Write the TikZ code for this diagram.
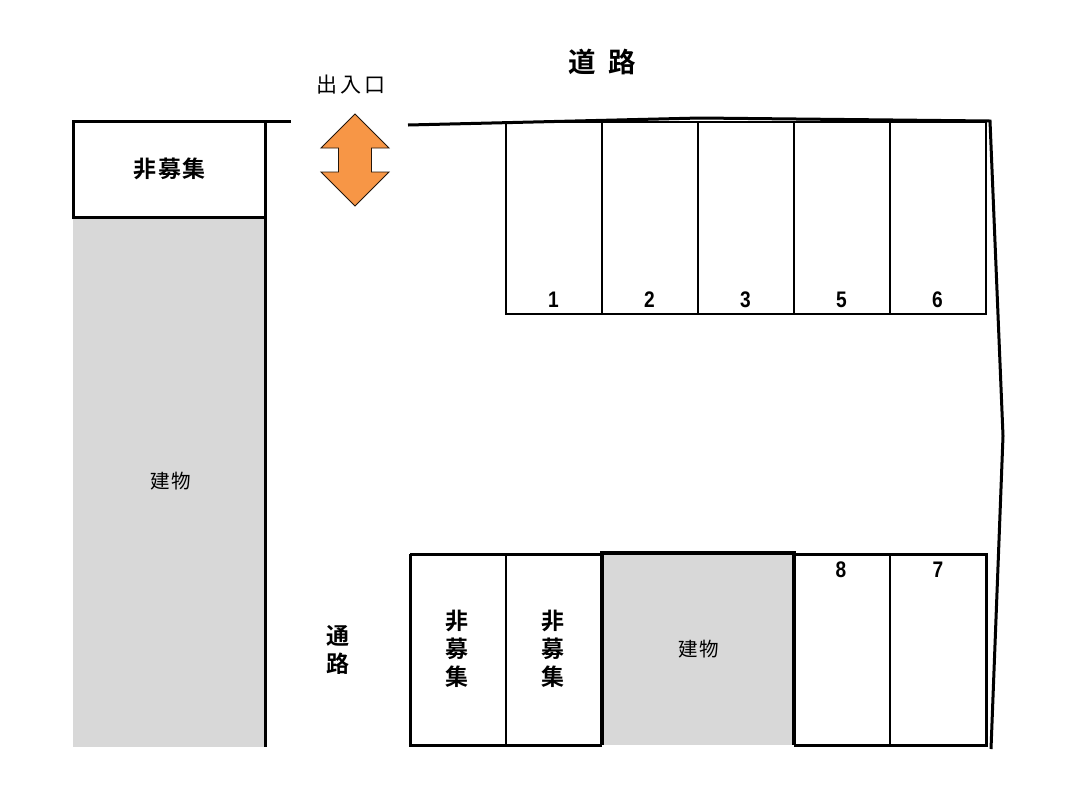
\documentclass[tikz,border=0pt]{standalone}
\usepackage{fontspec}
\setmainfont{Liberation Sans}
\newfontfamily\jpfont{Noto Sans CJK JP}
\newfontfamily\jpbold{Noto Sans CJK JP Bold}
\newfontfamily\digitfont[FakeStretch=0.85]{Liberation Sans Bold}
\definecolor{bldgray}{RGB}{216,216,216}
\definecolor{arroworange}{RGB}{247,150,70}
\tikzset{
  thin line/.style={draw=black,line width=2pt},
  thick line/.style={draw=black,line width=3pt},
  road line/.style={draw=black,line width=3pt,line join=miter},
  bigtxt/.style={inner sep=0pt,font=\jpbold\fontsize{23}{23}\selectfont},
  roadtxt/.style={inner sep=0pt,font=\jpbold\fontsize{27.5}{27.5}\selectfont},
  lighttxt/.style={inner sep=0pt,font=\jpfont\fontsize{19.5}{19.5}\selectfont},
  gatetxt/.style={inner sep=0pt,font=\jpfont\fontsize{21}{21}\selectfont},
  numtxt/.style={inner sep=0pt,font=\digitfont\fontsize{22.5}{22.5}\selectfont},
}
\begin{document}
\begin{tikzpicture}[x=1pt,y=-1pt]
\useasboundingbox[fill=white] (0,0) rectangle (1086,796);
% grey buildings
\fill[bldgray] (73,217) rectangle (266,747);
\fill[bldgray] (602,554) rectangle (794,745);
% upper slots
\draw[thin line] (506,122) rectangle (986,314);
\foreach \x in {602,698,794,890} \draw[thin line] (\x,122) -- (\x,314);
% lower slots
\draw[thick line] (410,554) -- (602,554);
\draw[thick line] (794,554) -- (986,554) -- (986,745) -- (794,745);
\draw[thick line] (410,554) -- (410,745) -- (602,745);
\draw[thin line] (506,554) -- (506,745);
\draw[thin line] (890,554) -- (890,745);
\draw[draw=black,line width=3.5pt] (602,745) -- (602,553) -- (794,553) -- (794,745);
% left block
\draw[thick line] (73.5,217) -- (73.5,121) -- (291,121);
\draw[thick line] (72,217) -- (266,217);
\draw[thick line] (265.5,121) -- (265.5,747);
% road boundary
\draw[road line] (408,125) -- (700,118) -- (990,121) -- (1003,436) -- (991,749);
% arrow
\draw[draw=black!85!arroworange,line width=0.9pt,fill=arroworange,line join=miter]
  (355,114) -- (389,148) -- (371.5,148) -- (371.5,172) -- (389,172) -- (355,206)
  -- (321,172) -- (338.5,172) -- (338.5,148) -- (321,148) -- cycle;
% labels
\node[roadtxt] (road1) at (582,62) {道};
\node[roadtxt] (road2) at (622,62) {路};
\node[gatetxt] (gate1) at (327,85) {出};
\node[gatetxt] (gate2) at (351,85) {入};
\node[gatetxt] (gate3) at (375,85) {口};
\node[bigtxt] (nb1) at (145,169) {非};
\node[bigtxt] (nb2) at (169.5,169) {募};
\node[bigtxt] (nb3) at (194,169) {集};
\node[lighttxt] (bldA1) at (160,481) {建};
\node[lighttxt] (bldA2) at (181,481) {物};
\node[lighttxt] (bldB1) at (688,649) {建};
\node[lighttxt] (bldB2) at (709,649) {物};
\node[bigtxt] (tsu1) at (338,636) {通};
\node[bigtxt] (tsu2) at (338,664) {路};
\foreach \n/\x in {a/457,b/553}{
  \node[bigtxt] (v\n1) at (\x,621) {非};
  \node[bigtxt] (v\n2) at (\x,649) {募};
  \node[bigtxt] (v\n3) at (\x,677) {集};
}
\foreach \t/\x in {1/553.5,2/649.5,3/745.5,5/841.5,6/937.5}
  \node[numtxt] (s\t) at (\x,300) {\t};
\node[numtxt] (s8) at (841,569.5) {8};
\node[numtxt] (s7) at (938,569.5) {7};
\end{tikzpicture}
\end{document}
